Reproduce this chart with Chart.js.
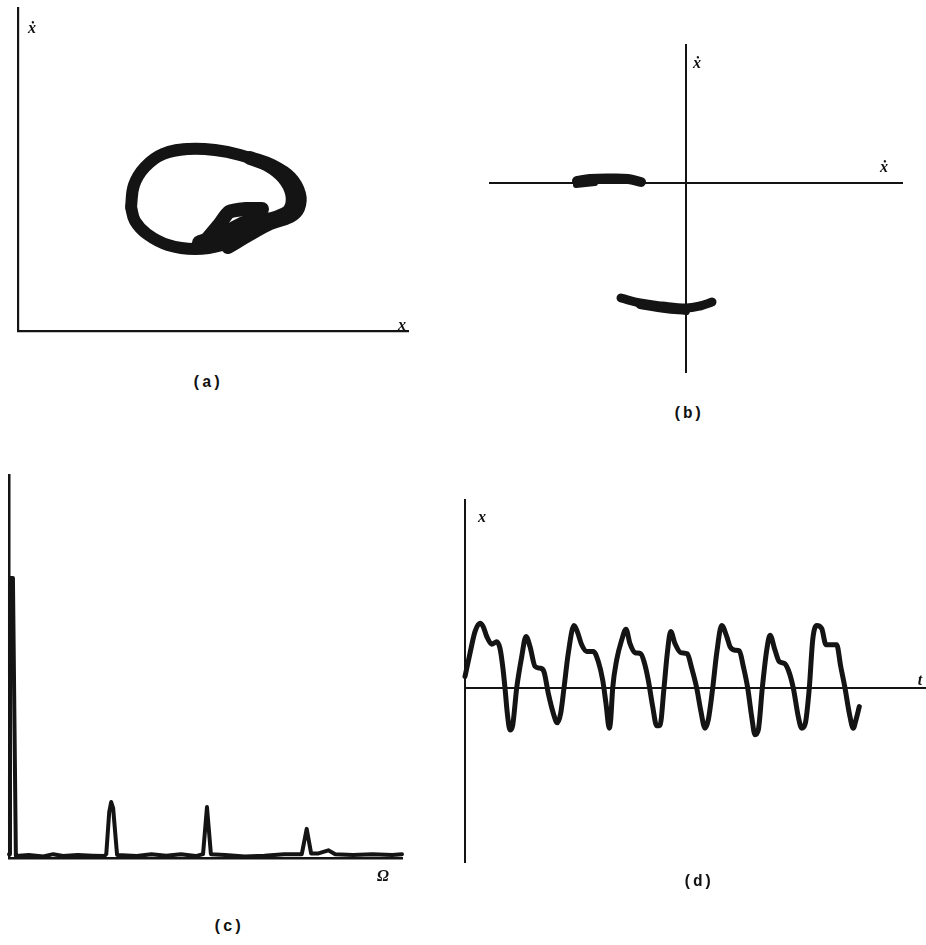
<!DOCTYPE html>
<html><head><meta charset="utf-8">
<script src="https://cdn.jsdelivr.net/npm/chart.js@4.4.0/dist/chart.umd.min.js"></script>
<style>
html,body{margin:0;padding:0;background:#fff;width:926px;height:945px;overflow:hidden;position:relative}
canvas{position:absolute}
.lbl{position:absolute;font-family:"Liberation Serif","DejaVu Serif",serif;font-weight:bold;font-style:italic;font-size:16px;color:#111;transform:translate(-50%,-50%);white-space:nowrap;line-height:1}
.cap{position:absolute;font-family:"Liberation Mono","DejaVu Sans Mono",monospace;font-weight:bold;font-size:16px;letter-spacing:0.5px;color:#111;transform:translate(-50%,-50%);white-space:nowrap;line-height:1}
</style></head><body>
<canvas id="ca" width="430" height="350" style="left:0;top:0"></canvas>
<canvas id="cb" width="440" height="360" style="left:480px;top:30px"></canvas>
<canvas id="cc" width="420" height="420" style="left:0;top:460px"></canvas>
<canvas id="cd" width="476" height="400" style="left:450px;top:480px"></canvas>

<div class="lbl" style="left:32px;top:28px">ẋ</div>
<div class="lbl" style="left:402px;top:325px">x</div>
<div class="cap" style="left:207px;top:383px">(a)</div>

<div class="lbl" style="left:697px;top:63px">ẋ</div>
<div class="lbl" style="left:884px;top:167px">ẋ</div>
<div class="cap" style="left:688px;top:414px">(b)</div>

<div class="lbl" style="left:383px;top:876px">Ω</div>
<div class="cap" style="left:228px;top:927px">(c)</div>

<div class="lbl" style="left:482px;top:517px">x</div>
<div class="lbl" style="left:920px;top:680px">t</div>
<div class="cap" style="left:698px;top:882px">(d)</div>

<script>
// ---------- (a) phase portrait: trajectory strands [x, xdot] ----------
const portraitMain = [[1.13,1.24],[1.16,1.46],[1.27,1.64],[1.45,1.77],[1.70,1.82],[1.97,1.81],[2.22,1.76],[2.44,1.68],[2.62,1.56],[2.72,1.41],[2.73,1.26],[2.65,1.16],[2.47,1.09],[2.27,0.97],[2.04,0.86],[1.77,0.82],[1.50,0.86],[1.29,0.97],[1.17,1.10],[1.13,1.24]];
const portraitOuter = [[2.32,1.73],[2.54,1.65],[2.72,1.53],[2.81,1.37],[2.80,1.23],[2.72,1.15],[2.52,1.08],[2.32,0.97],[2.10,0.84]];
const portraitTongue = [[1.90,0.93],[2.01,1.06],[2.11,1.19],[2.28,1.22],[2.44,1.22]];
const portraitLower = [[1.82,0.88],[1.96,0.93],[2.12,1.00],[2.32,1.09],[2.54,1.11],[2.74,1.19]];

// ---------- (b) Poincaré section clusters [x, xdot] ----------
const sectionUpper = [[-1.09,0.02],[-0.96,0.04],[-0.76,0.045],[-0.58,0.04],[-0.45,0.01]];
const sectionUpperEdge = [[-1.10,-0.02],[-0.91,0.0]];
const sectionLower = [[-0.65,-1.15],[-0.46,-1.20],[-0.24,-1.23],[0,-1.25],[0.14,-1.23],[0.26,-1.19]];
const sectionLowerEdge = [[-0.46,-1.22],[-0.21,-1.26],[0,-1.28]];

// ---------- (c) power spectrum ----------
const omega = [0.00,0.01,0.04,0.07,0.20,0.35,0.45,0.55,0.70,0.85,0.97,0.99,1.02,1.04,1.06,1.10,1.30,1.45,1.60,1.75,1.90,1.975,2.015,2.055,2.20,2.40,2.60,2.80,2.98,3.03,3.075,3.15,3.25,3.32,3.50,3.70,3.90,4.00];
const amp   = [0.01,0.731,0.731,0.005,0.008,0.004,0.01,0.005,0.008,0.006,0.005,0.01,0.12,0.146,0.13,0.008,0.005,0.01,0.006,0.01,0.005,0.01,0.133,0.01,0.008,0.004,0.006,0.01,0.01,0.076,0.012,0.012,0.02,0.01,0.008,0.01,0.008,0.01];

// ---------- (d) time history ----------
const timeT = [0,0.5,1.0,1.5,1.83,2.17,2.67,3.17,3.5,3.77,4.0,4.23,4.5,4.77,5.17,5.67,6.1,6.5,7.0,7.5,7.9,8.33,8.83,9.23,9.57,9.9,10.33,10.9,11.23,11.67,12.17,12.83,13.33,13.77,14.1,14.43,14.57,14.77,15.17,15.67,16.1,16.5,17.0,17.57,17.9,18.33,18.77,19.17,19.5,19.9,20.23,20.57,21.0,21.57,22.23,22.67,23.17,23.57,24.0,24.33,24.77,25.17,25.67,26.17,26.5,27.0,27.43,27.83,28.27,28.67,29.0,29.33,29.73,30.17,30.5,31.0,31.43,31.93,32.33,32.83,33.33,33.67,34.03,34.43,34.77,35.17,35.67,36.1,36.67,37.17,37.57,38.0,38.43,38.83,39.1,39.43];
const dispX = [0.19,0.58,0.94,1.08,1.02,0.86,0.73,0.77,0.66,0.36,0.0,-0.42,-0.70,-0.62,0,0.52,0.86,0.69,0.36,0.33,0.27,-0.09,-0.42,-0.58,-0.42,0,0.58,1.04,0.94,0.72,0.61,0.61,0.44,0.13,-0.26,-0.67,-0.53,0,0.47,0.80,0.98,0.74,0.59,0.57,0.44,0.13,-0.31,-0.63,-0.62,0,0.58,0.94,0.74,0.59,0.57,0.33,0,-0.37,-0.67,-0.53,0,0.58,1.04,0.86,0.69,0.63,0.62,0.36,0,-0.48,-0.78,-0.70,0,0.63,0.88,0.63,0.44,0.41,0.30,0,-0.48,-0.67,-0.59,0,0.80,1.04,0.99,0.72,0.72,0.72,0.36,0,-0.42,-0.67,-0.53,-0.31];

const INK = '#141414';
function axis(min, max, pos, w) {
  return {type:'linear', min, max, position:pos,
    grid:{display:false, drawTicks:false}, ticks:{display:false},
    border:{display:true, color:INK, width:w}};
}
function strand(pairs, w, tension) {
  return {data: pairs.map(p => ({x:p[0], y:p[1]})), showLine:true, borderColor:INK,
    backgroundColor:INK, borderWidth:w, pointRadius:0, tension:(tension==null?0.4:tension),
    borderCapStyle:'round', borderJoinStyle:'round', clip:false, fill:false};
}
function make(id, pad, xs, ys, datasets) {
  new Chart(document.getElementById(id), {type:'scatter', data:{datasets},
    options:{responsive:false, devicePixelRatio:1, animation:false, layout:{padding:pad},
      plugins:{legend:{display:false}, tooltip:{enabled:false}},
      scales:{x:xs, y:ys}}});
}

make('ca', {left:18, top:8, right:22, bottom:19},
  axis(0, 3.9, {y:0}, 2.2), axis(0, 3.23, {x:0}, 2.2),
  [strand(portraitMain,12), strand(portraitOuter,14), strand(portraitTongue,14,0.2), strand(portraitLower,16)]);

make('cb', {left:10, top:15, right:18, bottom:18},
  axis(-1.96, 2.16, {y:0}, 2), axis(-1.89, 1.38, {x:0}, 2),
  [strand(sectionUpper,10), strand(sectionUpperEdge,6), strand(sectionLower,9), strand(sectionLowerEdge,8)]);

make('cc', {left:9, top:15, right:18, bottom:22},
  axis(0, 4, {y:0}, 2.5), axis(0, 1, {x:0}, 2.5),
  [strand(omega.map((o,i)=>[o, amp[i]]), 4, 0)]);

const dSeries = strand(timeT.map((t,i)=>[t, dispX[i]]), 5, 0.4);
dSeries.cubicInterpolationMode = 'monotone';
make('cd', {left:15, top:20, right:1, bottom:18},
  axis(0, 46, {y:0}, 2), axis(-2.9, 3.133, {x:0}, 2),
  [dSeries]);
</script>
</body></html>
